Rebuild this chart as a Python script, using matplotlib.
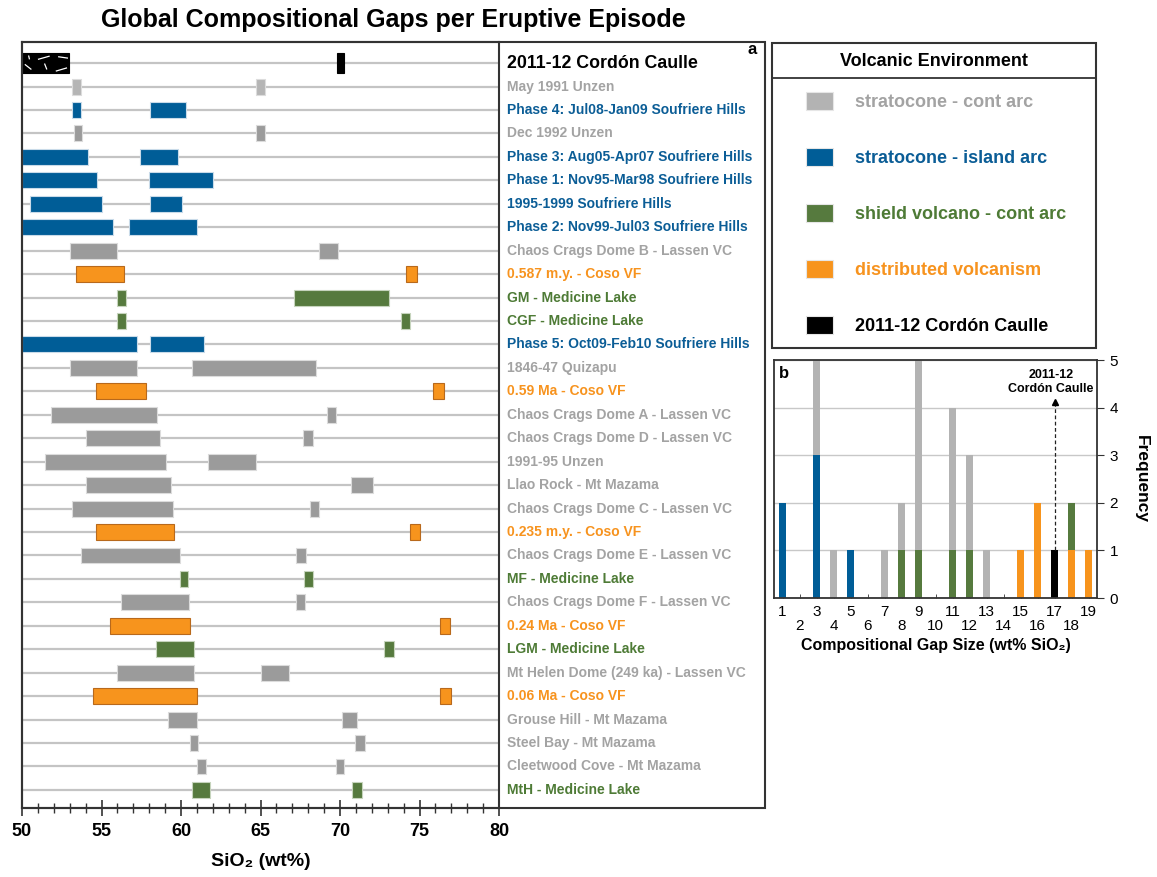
import matplotlib
matplotlib.use("Agg")
import matplotlib.pyplot as plt
from matplotlib import font_manager
from matplotlib.patches import Rectangle
import numpy as np

plt.rcParams['font.family'] = ['Liberation Sans', 'DejaVu Sans']

# ---------------- data: panel a (SiO2 ranges of the two magma groups) ----------------
episodes = [
    "2011-12 Cordón Caulle",
    "May 1991 Unzen",
    "Phase 4: Jul08-Jan09 Soufriere Hills",
    "Dec 1992 Unzen",
    "Phase 3: Aug05-Apr07 Soufriere Hills",
    "Phase 1: Nov95-Mar98 Soufriere Hills",
    "1995-1999 Soufriere Hills",
    "Phase 2: Nov99-Jul03 Soufriere Hills",
    "Chaos Crags Dome B - Lassen VC",
    "0.587 m.y. - Coso VF",
    "GM - Medicine Lake",
    "CGF - Medicine Lake",
    "Phase 5: Oct09-Feb10 Soufriere Hills",
    "1846-47 Quizapu",
    "0.59 Ma - Coso VF",
    "Chaos Crags Dome A - Lassen VC",
    "Chaos Crags Dome D - Lassen VC",
    "1991-95 Unzen",
    "Llao Rock - Mt Mazama",
    "Chaos Crags Dome C - Lassen VC",
    "0.235 m.y. - Coso VF",
    "Chaos Crags Dome E - Lassen VC",
    "MF - Medicine Lake",
    "Chaos Crags Dome F - Lassen VC",
    "0.24 Ma - Coso VF",
    "LGM - Medicine Lake",
    "Mt Helen Dome (249 ka) - Lassen VC",
    "0.06 Ma - Coso VF",
    "Grouse Hill - Mt Mazama",
    "Steel Bay - Mt Mazama",
    "Cleetwood Cove - Mt Mazama",
    "MtH - Medicine Lake",
]
environment = [
    "cc", "cont", "island", "cont", "island", "island", "island", "island",
    "cont", "dist", "shield", "shield", "island", "cont", "dist", "cont",
    "cont", "cont", "cont", "cont", "dist", "cont", "shield", "cont",
    "dist", "shield", "cont", "dist", "cont", "cont", "cont", "shield",
]
lower_start = [50.0, 53.16, 53.16, 53.25, 50.0, 50.0, 50.48, 50.0,
               53.0, 53.4, 55.97, 55.97, 50.0, 53.0, 54.65, 51.82,
               54.03, 51.45, 54.03, 53.16, 54.65, 53.71, 59.96, 56.2,
               55.55, 58.41, 55.97, 54.47, 59.16, 60.57, 61.03, 60.69]
lower_end = [52.95, 53.71, 53.73, 53.77, 54.15, 54.74, 55.05, 55.74,
             55.97, 56.44, 56.56, 56.56, 57.23, 57.23, 57.78, 58.49,
             58.68, 59.04, 59.37, 59.5, 59.58, 59.92, 60.44, 60.48,
             60.58, 60.8, 60.82, 61.01, 61.03, 61.09, 61.57, 61.8]
upper_start = [69.8, 64.72, 58.03, 64.72, 57.42, 57.97, 58.05, 56.71,
               68.68, 74.17, 67.11, 73.86, 58.03, 60.69, 75.87, 69.16,
               67.69, 61.72, 70.67, 68.13, 74.4, 67.25, 67.75, 67.25,
               76.31, 72.79, 65.03, 76.31, 70.14, 70.92, 69.73, 70.77]
upper_end = [70.27, 65.3, 60.3, 65.3, 59.81, 62.01, 60.08, 60.99,
             69.89, 74.86, 73.08, 74.38, 61.45, 68.47, 76.56, 69.73,
             68.3, 64.72, 72.08, 68.68, 75.05, 67.86, 68.28, 67.8,
             76.94, 73.4, 66.79, 76.96, 71.05, 71.55, 70.27, 71.36]
light_rows = ["May 1991 Unzen"]

# ---------------- data: panel b (histogram of gap sizes) ----------------
gap_size = list(range(1, 20))
freq_island = [2, 0, 3, 0, 1, 0, 0, 0, 0, 0, 0, 0, 0, 0, 0, 0, 0, 0, 0]
freq_cc     = [0, 0, 0, 0, 0, 0, 0, 0, 0, 0, 0, 0, 0, 0, 0, 0, 1, 0, 0]
freq_dist   = [0, 0, 0, 0, 0, 0, 0, 0, 0, 0, 0, 0, 0, 0, 1, 2, 0, 1, 1]
freq_shield = [0, 0, 0, 0, 0, 0, 0, 1, 1, 0, 1, 1, 0, 0, 0, 0, 0, 1, 0]
freq_cont   = [0, 0, 2, 1, 0, 0, 1, 1, 4, 0, 3, 2, 1, 0, 0, 0, 0, 0, 0]

legend_keys = ["cont", "island", "shield", "dist", "cc"]
legend_names = ["stratocone - cont arc", "stratocone - island arc",
                "shield volcano - cont arc", "distributed volcanism",
                "2011-12 Cordón Caulle"]

# ---------------- styling ----------------
bar_fill = {"cont": "#9b9b9b", "island": "#005d97", "shield": "#567a3e",
            "dist": "#f7941d", "cc": "#000000"}
bar_edge = {"cont": "#dcdcdc", "island": "#c9dbe9", "shield": "#c6d4bd",
            "dist": "#b8691c", "cc": "#000000"}
key_fill = {"cont": "#b3b3b3", "island": "#005d97", "shield": "#567a3e",
            "dist": "#f7941d", "cc": "#000000"}
text_col = {"cont": "#a3a3a3", "island": "#0b5d96", "shield": "#4e7b36",
            "dist": "#f7931e", "cc": "#000000"}
frame_col = "#333333"

installed = {f.name for f in font_manager.fontManager.ttflist}
title_family = ["Liberation Sans Narrow", "Liberation Sans"] \
    if "Liberation Sans Narrow" in installed else ["Liberation Sans"]
title_size = 21 if "Liberation Sans Narrow" in installed else 18

W, H = 1157, 877
fig = plt.figure(figsize=(W / 100, H / 100), dpi=100)


def px_rect(x0, y0, x1, y1):
    return [x0 / W, 1 - y1 / H, (x1 - x0) / W, (y1 - y0) / H]


# ---------------- panel a ----------------
ax = fig.add_axes(px_rect(22, 42, 499, 808))
n = len(episodes)
rows = np.arange(n)
ax.set_xlim(50, 80)
ax.set_ylim(n - 0.23, -0.9)

for r in rows:
    ax.axhline(r, color="#c4c4c4", lw=1.6, zorder=1)

fills = []
for name, env in zip(episodes, environment):
    fills.append("#b5b5b5" if name in light_rows else bar_fill[env])
edges = [bar_edge[e] for e in environment]
heights = [0.88 if e == "cc" else 0.68 for e in environment]

ax.barh(rows, np.subtract(lower_end, lower_start), left=lower_start,
        height=heights, color=fills, edgecolor=edges, linewidth=0.8, zorder=2)
ax.barh(rows, np.subtract(upper_end, upper_start), left=upper_start,
        height=heights, color=fills, edgecolor=edges, linewidth=0.8, zorder=2)

# crystal texture on the Cordón Caulle mafic group
cc_i = environment.index("cc")
x0, x1 = lower_start[cc_i], lower_end[cc_i]
h = heights[cc_i]
top = cc_i - h / 2
texture = [(0.14, 0.13, 0.16, 0.32), (0.34, 0.32, 0.59, 0.16),
           (0.77, 0.19, 0.98, 0.26), (0.06, 0.56, 0.20, 0.81),
           (0.48, 0.52, 0.53, 0.81), (0.72, 0.89, 0.96, 0.73)]
for fx0, fy0, fx1, fy1 in texture:
    ax.plot([x0 + fx0 * (x1 - x0), x0 + fx1 * (x1 - x0)],
            [top + fy0 * h, top + fy1 * h], color="white", lw=0.9,
            solid_capstyle="butt", zorder=3)

ax.set_yticks([])
ax.set_xticks(range(50, 81, 5))
ax.set_xticks(range(50, 81, 1), minor=True)
ax.tick_params(axis="x", which="major", direction="inout", length=11,
               width=1.2, labelsize=13, pad=5, color=frame_col)
ax.tick_params(axis="x", which="minor", direction="inout", length=7,
               width=1.0, color=frame_col)
for lbl in ax.get_xticklabels():
    lbl.set_fontweight("bold")
ax.set_xlabel("SiO₂ (wt%)", fontsize=14, fontweight="bold", labelpad=10)
for s in ax.spines.values():
    s.set_color(frame_col)
    s.set_linewidth(1.5)

for r, (name, env) in enumerate(zip(episodes, environment)):
    ax.text(1.0168, r, name, transform=ax.get_yaxis_transform(),
            ha="left", va="center", fontweight="bold",
            fontsize=12.8 if env == "cc" else 10, color=text_col[env],
            clip_on=False)

fig.add_artist(Rectangle((22 / W, 1 - 808 / H), (765 - 22) / W, (808 - 42) / H,
                         transform=fig.transFigure, fill=False,
                         edgecolor=frame_col, linewidth=1.5))
fig.text(752 / W, 1 - 50 / H, "a", ha="center", va="center",
         fontsize=12, fontweight="bold")

fig.text(393 / W, 1 - 20 / H, "Global Compositional Gaps per Eruptive Episode",
         ha="center", va="center", fontsize=title_size, fontweight="bold",
         family=title_family)

# ---------------- legend box ----------------
lax = fig.add_axes(px_rect(772, 43, 1096, 348))
lax.set_xlim(0, 1)
lax.set_ylim(1, 0)
lax.axis("off")
lax.add_patch(Rectangle((0, 0), 1, 1, fill=False, edgecolor=frame_col,
                        linewidth=1.5, transform=lax.transAxes, clip_on=False))
lax.plot([0, 1], [0.115, 0.115], color=frame_col, lw=1.3, clip_on=False)
lax.text(0.5, 0.062, "Volcanic Environment", ha="center", va="center",
         fontsize=13, fontweight="bold")
for k, (key, name) in enumerate(zip(legend_keys, legend_names)):
    yc = 0.19 + k * 0.1836
    lax.add_patch(Rectangle((0.105, yc - 0.0295), 0.083, 0.059,
                            facecolor=key_fill[key], edgecolor="#e6e6e6",
                            linewidth=0.8))
    lax.text(0.256, yc + 0.005, name, ha="left", va="center", fontsize=13,
             fontweight="bold", color=text_col[key])

# ---------------- panel b ----------------
bx = fig.add_axes(px_rect(774, 360, 1097, 598))
bw = 0.42
bottom = np.zeros(len(gap_size))
for key, vals in [("island", freq_island), ("cc", freq_cc), ("dist", freq_dist),
                  ("shield", freq_shield), ("cont", freq_cont)]:
    bx.bar(gap_size, vals, width=bw, bottom=bottom, color=key_fill[key],
           linewidth=0, zorder=2)
    bottom += np.array(vals)

bx.set_xlim(0.5, 19.5)
bx.set_ylim(0, 5)
bx.yaxis.tick_right()
bx.yaxis.set_label_position("right")
bx.set_yticks(range(0, 6))
bx.grid(axis="y", color="#c8c8c8", lw=1.0, zorder=0)
bx.set_axisbelow(True)
bx.tick_params(axis="y", direction="out", length=5, labelsize=11, pad=4,
               color=frame_col)
odd = [g for g in gap_size if g % 2 == 1]
even = [g for g in gap_size if g % 2 == 0]
bx.set_xticks(odd, [str(g) for g in odd])
bx.set_xticks(even, [str(g) for g in even], minor=True)
bx.tick_params(axis="x", which="major", direction="in", length=3, pad=5,
               labelsize=11, color=frame_col)
bx.tick_params(axis="x", which="minor", direction="in", length=3, pad=15,
               labelsize=11, color=frame_col)
bx.set_ylabel("Frequency", rotation=270, fontsize=12.5, fontweight="bold",
              labelpad=22)
bx.set_xlabel("Compositional Gap Size (wt% SiO₂)", fontsize=11.5,
              fontweight="bold", labelpad=4)
for s in bx.spines.values():
    s.set_color(frame_col)
    s.set_linewidth(1.3)

cc_gap = gap_size[int(np.argmax(freq_cc))]
bx.plot([cc_gap, cc_gap], [max(freq_cc), 4.08], ls=(0, (3, 2)), color="#222222",
        lw=0.9, zorder=3)
bx.plot([cc_gap], [4.12], marker="^", markersize=5, color="black", zorder=3)
bx.text(cc_gap - 0.22, 4.54, "2011-12\nCordón Caulle", ha="center", va="center",
        fontsize=9, fontweight="bold", linespacing=1.15)
bx.text(0.031, 0.945, "b", transform=bx.transAxes, ha="center", va="center",
        fontsize=12, fontweight="bold")

fig.savefig("out.png", dpi=100)
